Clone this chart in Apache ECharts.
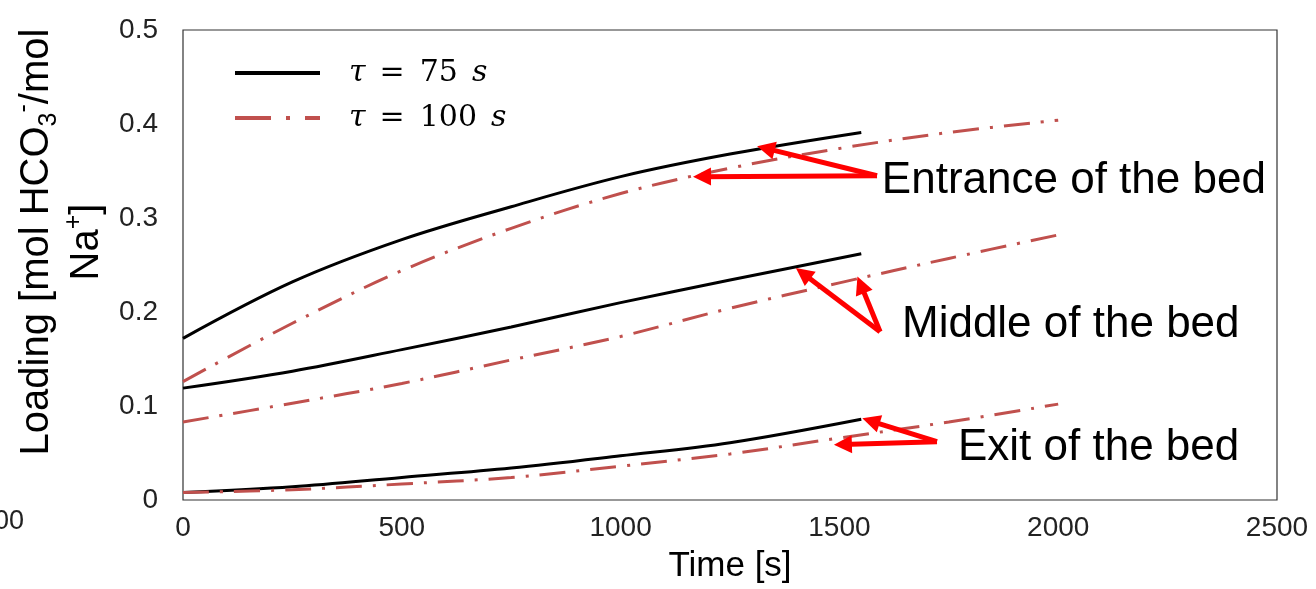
<!DOCTYPE html>
<html>
<head>
<meta charset="utf-8">
<script src="https://cdn.jsdelivr.net/npm/echarts@6/dist/echarts.min.js"></script>
<style>
  html, body { margin: 0; padding: 0; background: #fff; }
  #chart { width: 1316px; height: 589px; }
</style>
</head>
<body>
<div id="chart"></div>
<script>
// time points (s)
const time75 = [0, 250, 500, 750, 1000, 1250, 1550];
const time100 = [0, 250, 500, 750, 1000, 1250, 1500, 1750, 2000];

// loading, tau = 75 s
const entrance75 = [0.172, 0.232, 0.277, 0.312, 0.344, 0.368, 0.391];
const middle75 = [0.119, 0.137, 0.160, 0.184, 0.210, 0.234, 0.262];
const exit75 = [0.008, 0.014, 0.024, 0.034, 0.047, 0.061, 0.086];

// loading, tau = 100 s
const entrance100 = [0.126, 0.188, 0.244, 0.289, 0.326, 0.353, 0.374, 0.391, 0.404];
const middle100 = [0.083, 0.103, 0.124, 0.149, 0.174, 0.204, 0.231, 0.257, 0.282];
const exit100 = [0.008, 0.011, 0.017, 0.024, 0.036, 0.049, 0.066, 0.083, 0.102];

const legendNames = ['τ = 75 s', 'τ = 100 s'];

// annotation arrows, in data coords [time, loading]
const arrows = [
  { from: [1586, 0.345], to: [1332, 0.374] },
  { from: [1586, 0.345], to: [1186, 0.344] },
  { from: [1593, 0.179], to: [1417, 0.241] },
  { from: [1593, 0.179], to: [1549, 0.229] },
  { from: [1723, 0.062], to: [1572, 0.084] },
  { from: [1723, 0.062], to: [1508, 0.059] }
];
const notes = [
  { text: 'Entrance of the bed', at: [1597, 0.340] },
  { text: 'Middle of the bed', at: [1643, 0.186] },
  { text: 'Exit of the bed', at: [1771, 0.056] }
];

const pair = (ts, vs) => ts.map((t, i) => [t, vs[i]]);

const black = '#000000';
const red = '#C0504D';
const dashDot = [26, 11, 3, 11];

function curve(name, ts, vs, color, type) {
  return {
    name: name,
    type: 'line',
    data: pair(ts, vs),
    smooth: 0.35,
    showSymbol: false,
    symbol: 'none',
    lineStyle: { color: color, width: 3, type: type },
    itemStyle: { color: color },
    z: 3
  };
}

const chart = echarts.init(document.getElementById('chart'));
chart.setOption({
  animation: false,
  grid: {
    left: 183, right: 39, top: 30, bottom: 88,
    show: true, borderColor: '#333', borderWidth: 1.2
  },
  legend: {
    orient: 'vertical',
    left: 228, top: 53,
    itemWidth: 85, itemHeight: 36, itemGap: 15,
    data: [
      { name: legendNames[0], itemStyle: { opacity: 0 }, lineStyle: { width: 4, type: 'solid' } },
      { name: legendNames[1], itemStyle: { opacity: 0 }, lineStyle: { width: 4, type: [36, 15, 4, 15] } }
    ],
    formatter: function (name) {
      const num = name === legendNames[0] ? '75' : '100';
      return '{t|τ}{e|=}{n|' + num + '}{s|s}';
    },
    textStyle: {
      color: '#000',
      rich: {
        t: { fontFamily: 'DejaVu Serif', fontStyle: 'italic', fontSize: 30, padding: [0, 14, 0, 24] },
        e: { fontFamily: 'DejaVu Serif', fontSize: 30, padding: [0, 15, 0, 0] },
        n: { fontFamily: 'DejaVu Serif', fontSize: 30, padding: [0, 14, 0, 0] },
        s: { fontFamily: 'DejaVu Serif', fontStyle: 'italic', fontSize: 30 }
      }
    }
  },
  xAxis: {
    type: 'value',
    min: 0, max: 2500, interval: 500,
    name: 'Time [s]',
    nameLocation: 'middle',
    nameGap: 49,
    nameTextStyle: { fontFamily: 'Liberation Sans', fontSize: 35, color: '#000' },
    axisLine: { show: false },
    axisTick: { show: false },
    splitLine: { show: false },
    axisLabel: {
      fontFamily: 'Liberation Sans', fontSize: 28, color: '#222', margin: 14,
      formatter: v => String(v)
    }
  },
  yAxis: {
    type: 'value',
    min: 0, max: 0.5, interval: 0.1,
    axisLine: { show: false },
    axisTick: { show: false },
    splitLine: { show: false },
    axisLabel: {
      fontFamily: 'Liberation Sans', fontSize: 28, color: '#222', margin: 25,
      formatter: v => String(+v.toFixed(1))
    }
  },
  series: [
    curve(legendNames[0], time75, entrance75, black, 'solid'),
    curve(legendNames[0], time75, middle75, black, 'solid'),
    curve(legendNames[0], time75, exit75, black, 'solid'),
    curve(legendNames[1], time100, entrance100, red, dashDot),
    curve(legendNames[1], time100, middle100, red, dashDot),
    curve(legendNames[1], time100, exit100, red, dashDot),
    {
      name: 'arrows',
      type: 'line',
      data: [],
      z: 5,
      markLine: {
        silent: true,
        animation: false,
        symbol: ['none', 'triangle'],
        symbolSize: 18,
        label: { show: false },
        lineStyle: { color: '#FF0000', width: 5, type: 'solid' },
        emphasis: { disabled: true },
        data: arrows.map(a => [{ coord: a.from }, { coord: a.to }])
      }
    }
  ]
});

// text annotations and axis title drawn after the grid is laid out
const graphics = notes.map(n => {
  const p = chart.convertToPixel({ gridIndex: 0 }, n.at);
  return {
    type: 'text', x: p[0], y: p[1], z: 10,
    style: {
      text: n.text, fill: '#000',
      font: '44px "Liberation Sans", Arial, sans-serif',
      align: 'left', verticalAlign: 'middle'
    }
  };
});
graphics.push({
  type: 'text', x: 62, y: 242, rotation: Math.PI / 2, z: 10,
  style: {
    text: '{a|Loading [mol HCO}{sb|3}{sp|-}{a|/mol}\n{a|Na}{sp|+}{a|]}',
    fill: '#000',
    align: 'center', verticalAlign: 'middle',
    rich: {
      a: { fontFamily: 'Liberation Sans', fontSize: 40, lineHeight: 50 },
      sb: { fontFamily: 'Liberation Sans', fontSize: 25, lineHeight: 50, verticalAlign: 'bottom' },
      sp: { fontFamily: 'Liberation Sans', fontSize: 25, lineHeight: 26, verticalAlign: 'top' }
    }
  }
});
graphics.push({
  type: 'text', x: 24, y: 522, z: 10,
  style: {
    text: '00', fill: '#222',
    font: '27px "Liberation Sans", Arial, sans-serif',
    align: 'right', verticalAlign: 'middle'
  }
});
chart.setOption({ graphic: graphics });
</script>
</body>
</html>
